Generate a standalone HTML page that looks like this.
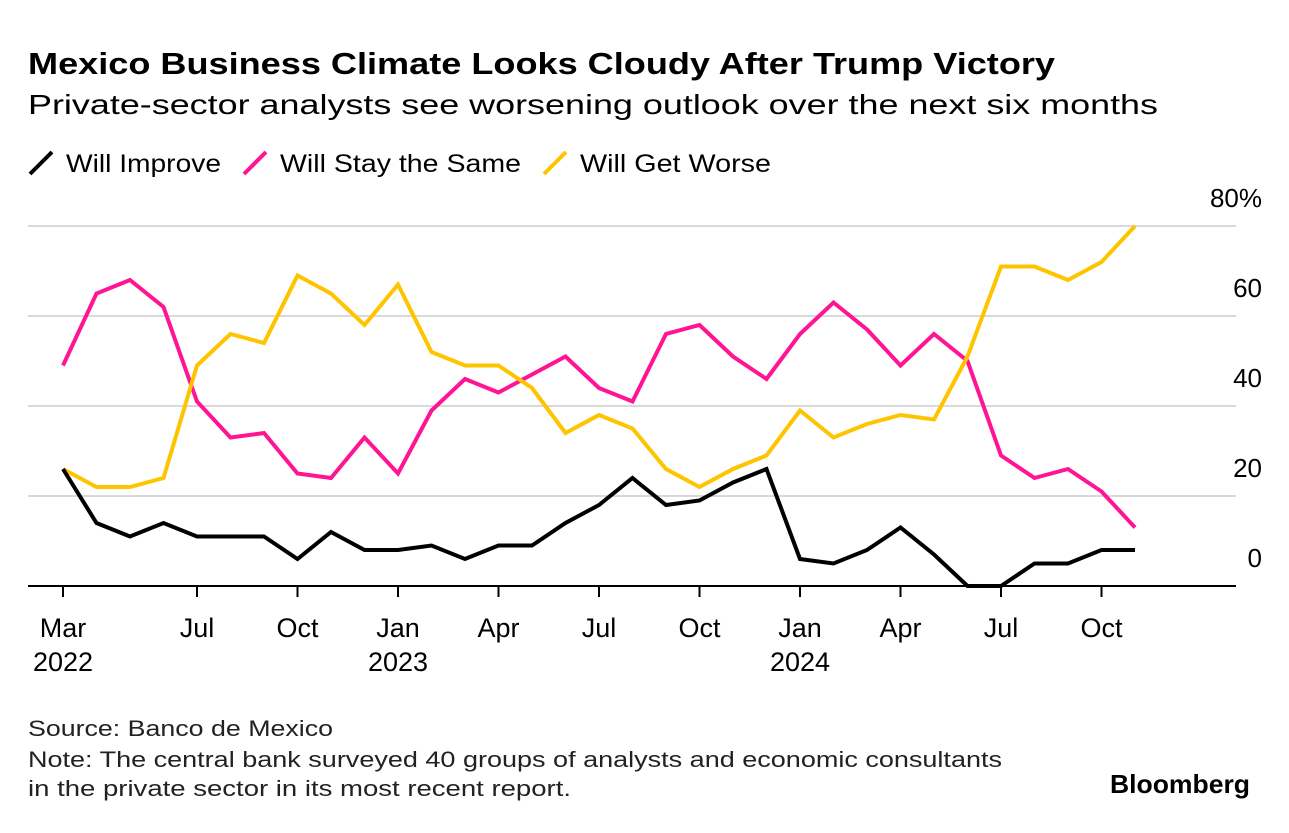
<!DOCTYPE html>
<html><head><meta charset="utf-8"><style>
body{margin:0;width:1289px;height:828px;background:#fff;font-family:"Liberation Sans",sans-serif;overflow:hidden}
</style></head><body>
<svg width="1289" height="828" xmlns="http://www.w3.org/2000/svg" font-family="Liberation Sans, sans-serif">
<text x="28" y="74" font-size="31" font-weight="bold" fill="#000" textLength="1027" lengthAdjust="spacingAndGlyphs">Mexico Business Climate Looks Cloudy After Trump Victory</text>
<text x="28" y="114" font-size="28" fill="#000" textLength="1130" lengthAdjust="spacingAndGlyphs">Private-sector analysts see worsening outlook over the next six months</text>
<g>
<line x1="30" y1="174" x2="52" y2="152" stroke="#000" stroke-width="4"/>
<text x="66" y="172" font-size="25" textLength="155" lengthAdjust="spacingAndGlyphs">Will Improve</text>
<line x1="244" y1="174" x2="266" y2="152" stroke="#ff1493" stroke-width="4"/>
<text x="280" y="172" font-size="25" textLength="241" lengthAdjust="spacingAndGlyphs">Will Stay the Same</text>
<line x1="544" y1="174" x2="566" y2="152" stroke="#ffc400" stroke-width="4"/>
<text x="580" y="172" font-size="25" textLength="191" lengthAdjust="spacingAndGlyphs">Will Get Worse</text>
</g>
<g id="grid"></g><g id="xaxis"></g><g id="series"></g>
<text x="28" y="736" font-size="22" fill="#222" textLength="305" lengthAdjust="spacingAndGlyphs">Source: Banco de Mexico</text>
<text x="28" y="767" font-size="22" fill="#222" textLength="974" lengthAdjust="spacingAndGlyphs">Note: The central bank surveyed 40 groups of analysts and economic consultants</text>
<text x="28" y="796" font-size="22" fill="#222" textLength="543" lengthAdjust="spacingAndGlyphs">in the private sector in its most recent report.</text>
<text x="1250" y="793" font-size="26" font-weight="bold" text-anchor="end" textLength="140" lengthAdjust="spacingAndGlyphs">Bloomberg</text>
</svg>
<script>
const improve=[26,14,11,14,11,11,11,6,12,8,8,9,6,9,9,14,18,24,18,19,23,26,6,5,8,13,7,0,0,5,5,8,8];
const same=[49,65,68,62,41,33,34,25,24,33,25,39,46,43,47,51,44,41,56,58,51,46,56,63,57,49,56,50,29,24,26,21,13];
const worse=[26,22,22,24,49,56,54,69,65,58,67,52,49,49,44,34,38,35,26,22,26,29,39,33,36,38,37,51,71,71,68,72,80];
const yTicks=[0,20,40,60,80];
const xTickIdx=[0,4,7,10,13,16,19,22,25,28,31];
const xTickLabels=["Mar","Jul","Oct","Jan","Apr","Jul","Oct","Jan","Apr","Jul","Oct"];
const yearLabels={0:"2022",10:"2023",22:"2024"};
const NS="http://www.w3.org/2000/svg";
const x=i=>63+i*33.5;
const y=v=>586-v*4.5;
function mk(t,a,p){const e=document.createElementNS(NS,t);for(const k in a)e.setAttribute(k,a[k]);document.getElementById(p).appendChild(e);return e;}
yTicks.forEach(v=>{
 if(v>0){const l=mk('line',{x1:28,x2:1236,y1:y(v),y2:y(v),stroke:'#d9d9d9','stroke-width':2},'grid');
 
 }
 const t=mk('text',{x:1262,y:y(v)-19,'font-size':26,'text-anchor':'end',fill:'#000'},'grid');
 t.textContent=v===80?'80%':v;
 
 
});
const ax=mk('line',{x1:28,x2:1236,y1:586,y2:586,stroke:'#000','stroke-width':2},'xaxis');


xTickIdx.forEach((i,k)=>{
 const tk=mk('line',{x1:x(i),x2:x(i),y1:586,y2:597,stroke:'#000','stroke-width':2},'xaxis');
 
 
 const t=mk('text',{x:x(i),y:637,'font-size':27,'text-anchor':'middle'},'xaxis');
 t.textContent=xTickLabels[k];
 
 
 if(yearLabels[i]){const yt=mk('text',{x:x(i),y:671,'font-size':27,'text-anchor':'middle'},'xaxis');
 yt.textContent=yearLabels[i];
 
 }
});
[[same,'#ff1493','line-will-stay-same'],[worse,'#ffc400','line-will-get-worse'],[improve,'#000','line-will-improve']].forEach(([d,c,n])=>{
 const p=mk('polyline',{points:d.map((v,i)=>x(i)+','+y(v)).join(' '),fill:'none',stroke:c,'stroke-width':4,'stroke-linejoin':'miter'},'series');
 
 
});
</script>
</body></html>
